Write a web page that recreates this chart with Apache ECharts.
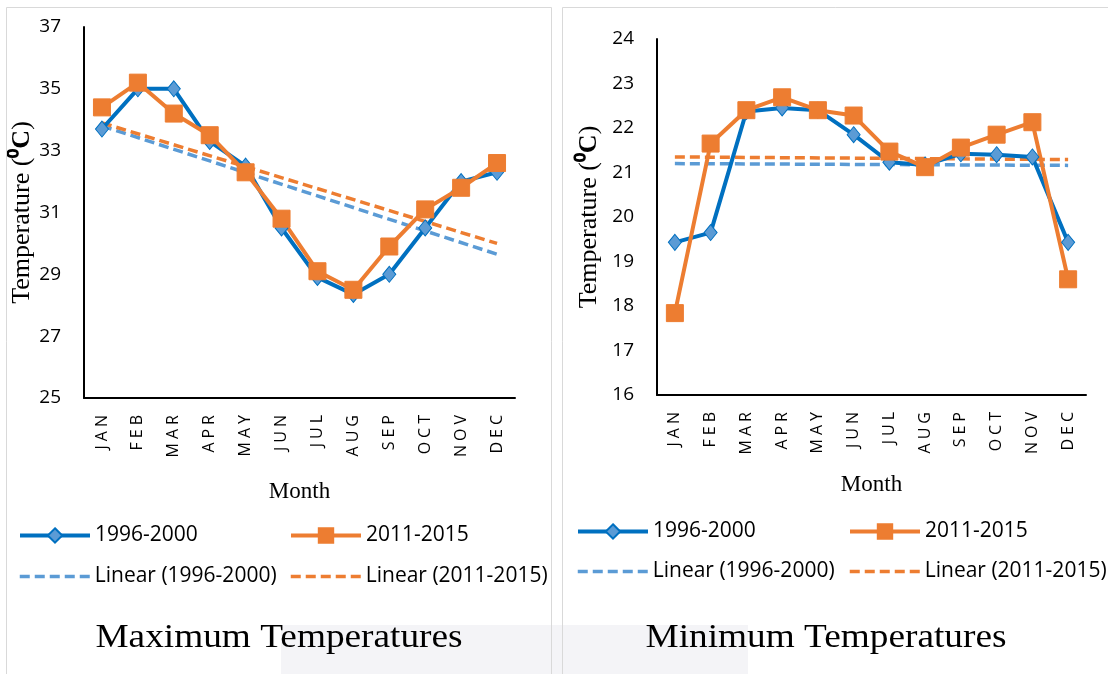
<!DOCTYPE html>
<html>
<head>
<meta charset="utf-8">
<script src="https://cdn.jsdelivr.net/npm/echarts@6/dist/echarts.min.js"></script>
<style>
  html, body { margin: 0; padding: 0; background: #fff; }
  #chart { width: 1108px; height: 674px; }
</style>
</head>
<body>
<div id="chart"></div>
<script>
// 月份
var months = ['JAN', 'FEB', 'MAR', 'APR', 'MAY', 'JUN', 'JUL', 'AUG', 'SEP', 'OCT', 'NOV', 'DEC'];
// 最高温度
var maxTemp1996 = [33.7, 35.0, 35.0, 33.3, 32.5, 30.5, 28.9, 28.35, 29.0, 30.5, 32.0, 32.3];
var maxTemp2011 = [34.4, 35.2, 34.2, 33.5, 32.3, 30.8, 29.1, 28.5, 29.9, 31.1, 31.8, 32.6];
// 最低温度
var minTemp1996 = [19.43, 19.65, 22.37, 22.45, 22.4, 21.85, 21.23, 21.17, 21.42, 21.4, 21.35, 19.43];
var minTemp2011 = [17.84, 21.65, 22.4, 22.69, 22.4, 22.28, 21.47, 21.12, 21.56, 21.85, 22.13, 18.6];
// 趋势线两端 (JAN, DEC)
var maxTrend1996 = [33.8, 29.65];
var maxTrend2011 = [33.9, 30.0];
var minTrend1996 = [21.2, 21.16];
var minTrend2011 = [21.35, 21.29];
// 刻度 [min, max, interval]
var maxTicks = [25, 37, 2];
var minTicks = [16, 24, 1];

var names = ['1996-2000', '2011-2015', 'Linear (1996-2000)', 'Linear (2011-2015)'];
var BLUE = '#0070C0', LIGHTBLUE = '#5B9BD5', ORANGE = '#ED7D31';
var SANS = '"Open Sans", "Liberation Sans", sans-serif';
var SERIF = '"Liberation Serif", "Times New Roman", serif';

//两端点的趋势线，中间为空
function trendData(ends) {
    return months.map(function (m, i) {
        if (i === 0) return ends[0];
        if (i === months.length - 1) return ends[1];
        return null;
    });
}

function xAxis(gridIndex, gap) {
    return {
        type: 'category',
        gridIndex: gridIndex,
        data: months,
        boundaryGap: true,
        name: 'Month',
        nameLocation: 'middle',
        nameGap: gap,
        nameTextStyle: { fontFamily: SERIF, fontSize: 23, color: '#000' },
        axisLine: { lineStyle: { color: '#000', width: 2 } },
        axisTick: { show: false },
        axisLabel: {
            rotate: 90,
            margin: 15,
            interval: 0,
            //字母间距
            formatter: function (v) {
                return v.split('').map(function (c) { return '{s|' + c + '}'; }).join('');
            },
            rich: { s: { fontFamily: SANS, fontSize: 16, color: '#000', padding: [0, 2] } }
        }
    };
}

function yAxis(gridIndex, ticks, gap) {
    return {
        type: 'value',
        gridIndex: gridIndex,
        min: ticks[0],
        max: ticks[1],
        interval: ticks[2],
        name: '{a|Temperature (}{b|⁰C}{a|)}',
        nameLocation: 'middle',
        nameGap: gap,
        nameRotate: 90,
        nameTextStyle: {
            rich: {
                a: { fontFamily: SERIF, fontSize: 26, color: '#000' },
                b: { fontFamily: SERIF, fontSize: 26, fontWeight: 'bold', color: '#000' }
            }
        },
        axisLine: { show: true, lineStyle: { color: '#000', width: 2 } },
        axisTick: { show: false },
        splitLine: { show: false },
        axisLabel: { margin: 23, fontFamily: SANS, fontSize: 19, color: '#000' }
    };
}

function dataSeries(name, data, idx, color, symbol, size, border) {
    return {
        name: name,
        type: 'line',
        xAxisIndex: idx,
        yAxisIndex: idx,
        data: data,
        symbol: symbol,
        symbolSize: size,
        z: 3,
        lineStyle: { color: color, width: 4 },
        itemStyle: { color: symbol === 'diamond' ? LIGHTBLUE : color, borderColor: border, borderWidth: 1 },
        emphasis: { disabled: true }
    };
}

function trendSeries(name, ends, idx, color) {
    return {
        name: name,
        type: 'line',
        xAxisIndex: idx,
        yAxisIndex: idx,
        data: trendData(ends),
        connectNulls: true,
        symbol: 'none',
        z: 2,
        lineStyle: { color: color, width: 3.5, type: [10, 5] },
        itemStyle: { color: color },
        emphasis: { disabled: true }
    };
}

function legendItem(name, left, top, trend) {
    var item = trend ? { name: name, itemStyle: { opacity: 0 } } : { name: name };
    return {
        data: [item],
        left: left,
        top: top,
        padding: 0,
        itemWidth: 70,
        itemHeight: 18,
        selectedMode: false,
        lineStyle: { width: trend ? 3.5 : 4 },
        textStyle: { fontFamily: SANS, fontSize: 21, color: '#000' }
    };
}

var chart = echarts.init(document.getElementById('chart'));
chart.setOption({
    backgroundColor: '#fff',
    animation: false,
    grid: [
        { left: 84, right: 1108 - 515, top: 27, bottom: 674 - 398 },
        { left: 657, right: 1108 - 1086, top: 39, bottom: 674 - 395 }
    ],
    xAxis: [xAxis(0, 82), xAxis(1, 78)],
    yAxis: [yAxis(0, maxTicks, 44), yAxis(1, minTicks, 55)],
    legend: [
        legendItem(names[0], 18, 525),
        legendItem(names[1], 289, 525),
        legendItem(names[2], 18, 566, true),
        legendItem(names[3], 289, 566, true),
        legendItem(names[0], 576, 521),
        legendItem(names[1], 848, 521),
        legendItem(names[2], 576, 561, true),
        legendItem(names[3], 848, 561, true)
    ],
    series: [
        trendSeries(names[2], maxTrend1996, 0, LIGHTBLUE),
        trendSeries(names[3], maxTrend2011, 0, ORANGE),
        dataSeries(names[0], maxTemp1996, 0, BLUE, 'diamond', [13, 16], BLUE),
        dataSeries(names[1], maxTemp2011, 0, ORANGE, 'rect', 17, ORANGE),
        trendSeries(names[2], minTrend1996, 1, LIGHTBLUE),
        trendSeries(names[3], minTrend2011, 1, ORANGE),
        dataSeries(names[0], minTemp1996, 1, BLUE, 'diamond', [13, 16], BLUE),
        dataSeries(names[1], minTemp2011, 1, ORANGE, 'rect', 17, ORANGE)
    ],
    graphic: [
        { type: 'rect', z: 0, silent: true, shape: { x: 281, y: 625, width: 467, height: 60 }, style: { fill: '#f4f4f7' } },
        { type: 'rect', z: 1, silent: true, shape: { x: 6.5, y: 7.5, width: 545, height: 700 }, style: { fill: 'none', stroke: '#d9d9d9', lineWidth: 1 } },
        { type: 'rect', z: 1, silent: true, shape: { x: 562.5, y: 7.5, width: 600, height: 700 }, style: { fill: 'none', stroke: '#d9d9d9', lineWidth: 1 } },
        { type: 'text', z: 5, silent: true, x: 279, y: 638, scaleX: 1.13,
          style: { text: 'Maximum Temperatures', fontFamily: SERIF, fontSize: 33, fill: '#000', textAlign: 'center', textVerticalAlign: 'middle' } },
        { type: 'text', z: 5, silent: true, x: 826, y: 638, scaleX: 1.13,
          style: { text: 'Minimum Temperatures', fontFamily: SERIF, fontSize: 33, fill: '#000', textAlign: 'center', textVerticalAlign: 'middle' } }
    ]
});
</script>
</body>
</html>
